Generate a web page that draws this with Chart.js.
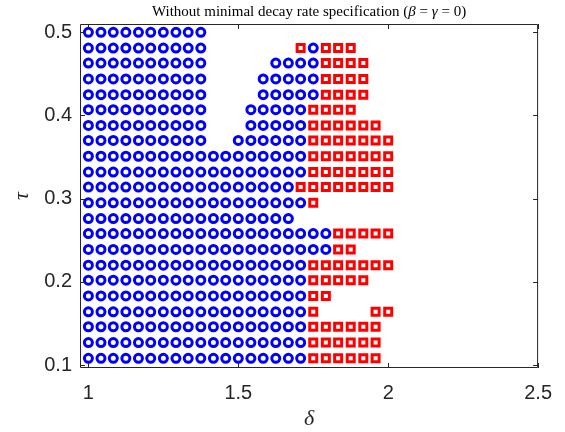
<!DOCTYPE html>
<html>
<head>
<meta charset="utf-8">
<script src="https://cdn.jsdelivr.net/npm/chart.js@4"></script>
<style>
  html, body { margin: 0; padding: 0; background: #ffffff; }
  #c { display: block; }
</style>
</head>
<body>
<canvas id="c" width="565" height="432"></canvas>
<script>
// Grid of decay-parameter values (delta) scanned along each row
const DELTA = [1.000, 1.042, 1.083, 1.125, 1.167, 1.208, 1.250, 1.292, 1.333, 1.375,
               1.417, 1.458, 1.500, 1.542, 1.583, 1.625, 1.667, 1.708, 1.750, 1.792,
               1.833, 1.875, 1.917, 1.958, 2.000];

// Delay values (tau), top row first
const TAU = [0.500, 0.481, 0.463, 0.444, 0.425, 0.407, 0.388, 0.370, 0.351, 0.332, 0.314,
             0.295, 0.276, 0.258, 0.239, 0.220, 0.202, 0.183, 0.164, 0.146, 0.127, 0.108];

// Outcome per (tau, delta): 'o' feasible, 's' infeasible, '.' not computed
const STATUS = [
  "oooooooooo...............",
  "oooooooooo.......sosss...",
  "oooooooooo.....oooossss..",
  "oooooooooo....ooooossss..",
  "oooooooooo....ooooossss..",
  "oooooooooo...ooooossss...",
  "oooooooooo...ooooossssss.",
  "oooooooooo..oooooosssssss",
  "oooooooooooooooooosssssss",
  "oooooooooooooooooosssssss",
  "ooooooooooooooooossssssss",
  "oooooooooooooooooos......",
  "ooooooooooooooooo........",
  "oooooooooooooooooooosssss",
  "ooooooooooooooooooooss...",
  "oooooooooooooooooosssssss",
  "oooooooooooooooooosssss..",
  "ooooooooooooooooooss.....",
  "oooooooooooooooooos....ss",
  "oooooooooooooooooossssss.",
  "oooooooooooooooooossssss.",
  "oooooooooooooooooossssss."
];

const X_TICKS = [1, 1.5, 2, 2.5];
const Y_TICKS = [0.1, 0.2, 0.3, 0.4, 0.5];
const TITLE_PARTS = [
  ["Without minimal decay rate specification (", false],
  ["\u03B2", true],
  [" = ", false],
  ["\u03B3", true],
  [" = 0)", false]
];

const feasible = [];
const infeasible = [];
STATUS.forEach((row, r) => {
  for (let c = 0; c < DELTA.length; c++) {
    const ch = row[c];
    if (ch === 'o') feasible.push({ x: DELTA[c], y: TAU[r] });
    else if (ch === 's') infeasible.push({ x: DELTA[c], y: TAU[r] });
  }
});

const AXIS_COLOR = '#262626';
const SANS = "'Liberation Sans', Arial, Helvetica, sans-serif";
const SERIF = "'Liberation Serif', 'DejaVu Serif', serif";

// Box around the plot, inward tick marks on all four sides, and the title line
const framePlugin = {
  id: 'frame',
  afterDatasetsDraw(chart) {
    const { ctx, chartArea: a, scales: { x, y } } = chart;
    const len = 5;
    ctx.save();
    ctx.strokeStyle = AXIS_COLOR;
    ctx.lineWidth = 1;
    ctx.beginPath();
    ctx.rect(a.left + 0.5, a.top + 0.5, a.right - a.left - 1, a.bottom - a.top - 1);
    X_TICKS.forEach(v => {
      const px = Math.round(x.getPixelForValue(v)) + 0.5;
      ctx.moveTo(px, a.bottom); ctx.lineTo(px, a.bottom - len);
      ctx.moveTo(px, a.top); ctx.lineTo(px, a.top + len);
    });
    Y_TICKS.forEach(v => {
      const py = Math.round(y.getPixelForValue(v)) + 0.5;
      ctx.moveTo(a.left, py); ctx.lineTo(a.left + len, py);
      ctx.moveTo(a.right, py); ctx.lineTo(a.right - len, py);
    });
    ctx.stroke();

    // title with italic Greek symbols
    const size = 15;
    const fontFor = it => (it ? 'italic ' : '') + size + 'px ' + SERIF;
    let total = 0;
    TITLE_PARTS.forEach(([t, it]) => { ctx.font = fontFor(it); total += ctx.measureText(t).width; });
    let cx = (a.left + a.right) / 2 - total / 2;
    ctx.fillStyle = '#000000';
    ctx.textBaseline = 'middle';
    ctx.textAlign = 'left';
    TITLE_PARTS.forEach(([t, it]) => {
      ctx.font = fontFor(it);
      ctx.fillText(t, cx, 12);
      cx += ctx.measureText(t).width;
    });
    ctx.restore();
  }
};

new Chart(document.getElementById('c'), {
  type: 'scatter',
  data: {
    datasets: [
      {
        label: 'feasible',
        data: feasible,
        pointStyle: 'circle',
        pointRadius: 4,
        borderWidth: 3,
        borderColor: '#0000ff',
        backgroundColor: 'rgba(0,0,0,0)'
      },
      {
        label: 'infeasible',
        data: infeasible,
        pointStyle: 'rect',
        pointRadius: 4.95,
        borderWidth: 3,
        borderColor: '#ff0000',
        backgroundColor: 'rgba(0,0,0,0)'
      }
    ]
  },
  options: {
    responsive: false,
    animation: false,
    devicePixelRatio: 1,
    events: [],
    layout: { padding: { top: 24, right: 25, left: 0, bottom: 0 } },
    plugins: { legend: { display: false }, tooltip: { enabled: false } },
    scales: {
      x: {
        type: 'linear',
        position: 'bottom',
        min: 0.972,
        max: 2.5,
        afterBuildTicks: s => { s.ticks = X_TICKS.map(v => ({ value: v })); },
        afterFit: s => { s.height = 64; },
        grid: { display: false, drawTicks: false },
        border: { display: false },
        ticks: {
          autoSkip: false, maxRotation: 0, padding: 13,
          color: AXIS_COLOR,
          font: { family: SANS, size: 20 },
          callback: v => String(v)
        },
        title: {
          display: true, text: '\u03B4', color: AXIS_COLOR,
          font: { family: SERIF, size: 22, style: 'italic' },
          padding: { top: 0, bottom: 0 }
        }
      },
      y: {
        type: 'linear',
        position: 'left',
        min: 0.0964,
        max: 0.51,
        afterBuildTicks: s => { s.ticks = Y_TICKS.map(v => ({ value: v })); },
        afterFit: s => { s.width = 80; },
        grid: { display: false, drawTicks: false },
        border: { display: false },
        ticks: {
          autoSkip: false, padding: 8,
          color: AXIS_COLOR,
          font: { family: SANS, size: 20 },
          callback: v => String(v)
        },
        title: {
          display: true, text: '\u03C4', color: AXIS_COLOR,
          font: { family: SERIF, size: 22, style: 'italic' },
          padding: { top: 9, bottom: 0 }
        }
      }
    }
  },
  plugins: [framePlugin]
});
</script>
</body>
</html>
